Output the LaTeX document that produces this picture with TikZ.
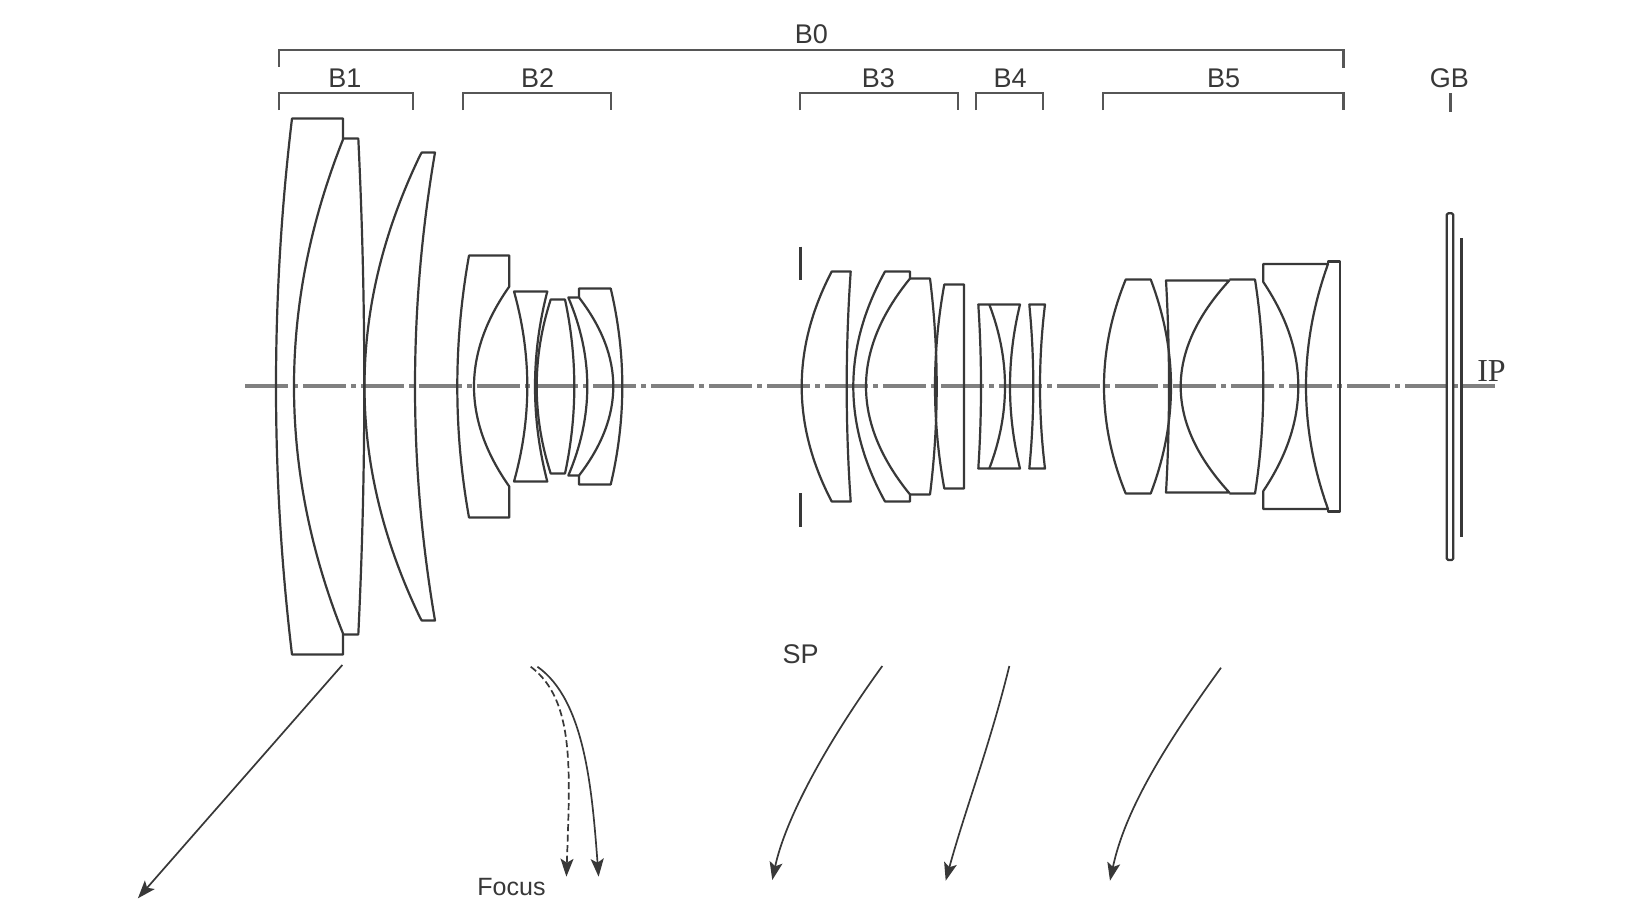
\documentclass[tikz,border=0pt]{standalone}
\usepackage{fontspec}
\setmainfont{Liberation Sans}
\newfontfamily\serifip{Liberation Serif}
\usetikzlibrary{arrows.meta}
\newcommand\ptop[2]{(#1,{386.5-#2})}
\newcommand\pbot[2]{(#1,{386.5+#2})}
\newcommand\lsdn[3]{.. controls ({#1+4/3*(#2-#1)},{386.5-#3/3}) and ({#1+4/3*(#2-#1)},{386.5+#3/3}) .. (#1,{386.5+#3})}
\newcommand\lsup[3]{.. controls ({#1+4/3*(#2-#1)},{386.5+#3/3}) and ({#1+4/3*(#2-#1)},{386.5-#3/3}) .. (#1,{386.5-#3})}
\definecolor{ink}{HTML}{383838}
\tikzset{
  lens/.style={draw=ink,line width=2.2pt,line join=round},
  brk/.style={draw=ink!85,line width=2.2pt,line join=miter},
  axisline/.style={draw=black!50,line width=3.2pt,dash pattern=on 43pt off 5pt on 5pt off 5pt},
  mover/.style={draw=ink,line width=1.7pt,-{Stealth[length=18pt,width=13pt,inset=4pt]}},
  lbl/.style={text=ink,inner sep=0pt,font=\fontsize{27}{27}\selectfont},
}
\begin{document}
\begin{tikzpicture}[x=1pt,y=-1pt]
\useasboundingbox[fill=white] (0,0) rectangle (1638,922);
% optical axis
\coordinate (axL) at (245,386); \coordinate (axR) at (1495,386);
\draw[axisline] (axL) -- (axR);
% B1
\draw[lens] \ptop{292}{268} -- \ptop{343}{268} -- \ptop{343}{247} \lsdn{343}{294}{247} -- \pbot{343}{268} -- \pbot{292}{268} \lsup{292}{276}{268} -- cycle;
\draw[lens] \ptop{343}{248} -- \ptop{358.3}{248} \lsdn{358.3}{364.3}{248} -- \pbot{343}{248};
\draw[lens] \ptop{421.7}{234} -- \ptop{435}{234} \lsdn{435}{415}{234} -- \pbot{421.7}{234} -- \pbot{420}{231} \lsup{420}{364.5}{231} -- cycle;
% B2
\draw[lens] \ptop{469}{131} -- \ptop{509.3}{131} -- \ptop{509.3}{100} \lsdn{509.3}{474}{100} -- \pbot{509.3}{131} -- \pbot{469}{131} \lsup{469}{457.3}{131} -- cycle;
\draw[lens] \ptop{514}{95} -- \ptop{547.3}{95} \lsdn{547.3}{535}{95} -- \pbot{514}{95} \lsup{514}{527.3}{95} -- cycle;
\draw[lens] \ptop{550.7}{87} -- \ptop{565}{87} \lsdn{565}{574.3}{87} -- \pbot{550.7}{87} \lsup{550.7}{536.7}{87} -- cycle;
\draw[lens] \ptop{568.3}{89} -- \ptop{579}{89} \lsdn{579}{613.3}{89} -- \pbot{568.3}{89} \lsup{568.3}{587.3}{89} -- cycle;
\draw[lens] \ptop{579}{89} -- \ptop{579}{98} -- \ptop{610.7}{98} \lsdn{610.7}{622.3}{98} -- \pbot{579}{98} -- \pbot{579}{89};
% stop
\coordinate (stA) at (800.7,246.7); \coordinate (stB) at (800.7,280);
\coordinate (stC) at (800.7,493.3); \coordinate (stD) at (800.7,526.7);
\draw[lens,line width=2.6pt] (stA) -- (stB) (stC) -- (stD);
% B3
\draw[lens] \ptop{831.7}{115} -- \ptop{850.7}{115} \lsdn{850.7}{846.7}{115} -- \pbot{831.7}{115} \lsup{831.7}{801.7}{115} -- cycle;
\draw[lens] \ptop{885}{115} -- \ptop{910}{115} -- \ptop{910}{108} \lsdn{910}{866}{108} -- \pbot{910}{115} -- \pbot{885}{115} \lsup{885}{853.3}{115} -- cycle;
\draw[lens] \ptop{910}{108} -- \ptop{930}{108} \lsdn{930}{936.7}{108} -- \pbot{910}{108};
\draw[lens] \ptop{944.3}{102} -- \ptop{964}{102} -- \pbot{964}{102} -- \pbot{944.3}{102} \lsup{944.3}{935}{102} -- cycle;
% B4
\draw[lens] \ptop{978.3}{82} -- \ptop{1020}{82} \lsdn{1020}{1010}{82} -- \pbot{978.3}{82} \lsup{978.3}{981}{82} -- cycle;
\draw[lens] \ptop{989.3}{82} \lsdn{989.3}{1005}{82};
\draw[lens] \ptop{1029.3}{82} -- \ptop{1045}{82} \lsdn{1045}{1040}{82} -- \pbot{1029.3}{82} \lsup{1029.3}{1033.3}{82} -- cycle;
% B5
\draw[lens] \ptop{1125.7}{107} -- \ptop{1150.7}{107} \lsdn{1150.7}{1171}{107} -- \pbot{1125.7}{107} \lsup{1125.7}{1104}{107} -- cycle;
\draw[lens] \ptop{1166}{106} -- \ptop{1229.3}{106} \lsdn{1229.3}{1180.7}{106} -- \pbot{1166}{106} \lsup{1166}{1169}{106} -- cycle;
\draw[lens] \ptop{1229.3}{107} -- \ptop{1255}{107} \lsdn{1255}{1263.3}{107} -- \pbot{1229.3}{107};
\draw[lens] \ptop{1263.3}{104.5} -- \ptop{1263.3}{122.5} -- \ptop{1328}{122.5} \lsdn{1328}{1306}{122.5} -- \pbot{1263.3}{122.5} -- \pbot{1263.3}{104.5} \lsup{1263.3}{1298.3}{104.5} -- cycle;
\draw[lens] \ptop{1328}{122.5} -- \ptop{1328}{125} -- \ptop{1340}{125} -- \pbot{1340}{125} -- \pbot{1328}{125} -- \pbot{1328}{122.5};
% GB and IP
\draw[lens,rounded corners=1.5pt] (1446.7,213.3) rectangle (1453.3,560);
\coordinate (ipA) at (1461.7,238.3); \coordinate (ipB) at (1461.7,536.7);
\draw[lens,line width=3pt] (ipA) -- (ipB);
% brackets
\draw[brk] (278.8,66.7) -- (278.8,50) -- (1343.4,50) -- (1343.4,68);
\draw[brk] (278.8,110) -- (278.8,93.3) -- (413,93.3) -- (413,110);
\draw[brk] (463,110) -- (463,93.3) -- (611.3,93.3) -- (611.3,110);
\draw[brk] (800,110) -- (800,93.3) -- (957.7,93.3) -- (957.7,110);
\draw[brk] (976,110) -- (976,93.3) -- (1043,93.3) -- (1043,110);
\draw[brk] (1103,110) -- (1103,93.3) -- (1343.4,93.3) -- (1343.4,110);
\coordinate (gbA) at (1450.2,93); \coordinate (gbB) at (1450.2,111.7);
\draw[brk,line width=3.4pt] (gbA) -- (gbB);
% labels
\node[lbl] (tB0) at (811.3,34) {B0};
\node[lbl] (tB1) at (344.8,78.3) {B1};
\node[lbl] (tB2) at (537.7,78.3) {B2};
\node[lbl] (tB3) at (878.3,78.3) {B3};
\node[lbl] (tB4) at (1010,78.3) {B4};
\node[lbl] (tB5) at (1223.6,78.3) {B5};
\node[lbl] (tGB) at (1449.4,78.3) {GB};
\node[lbl] (tSP) at (800.5,654.5) {SP};
\node[lbl,font=\fontsize{25}{25}\selectfont] (tFocus) at (511.5,886.7) {Focus};
\node[lbl,font=\serifip\fontsize{32}{32}\selectfont] (tIP) at (1491.5,370.8) {IP};
% movement arrows
\coordinate (a1s) at (342.3,665); \coordinate (a1e) at (137.9,898.3);
\draw[mover] (a1s) -- (a1e);
\coordinate (fds) at (530.7,666.7); \coordinate (fde) at (566.4,876.7);
\draw[mover,dash pattern=on 7pt off 3.5pt] (fds) .. controls (575,700) and (570,770) .. (fde);
\coordinate (fss) at (537.4,666.7); \coordinate (fse) at (598.6,876.7);
\draw[mover] (fss) .. controls (585,700) and (592,790) .. (fse);
\coordinate (a3s) at (882.3,666); \coordinate (a3e) at (772.3,880);
\draw[mover] (a3s) .. controls (825,745) and (785,820) .. (a3e);
\coordinate (a4s) at (1009.3,666); \coordinate (a4e) at (945.7,880.7);
\draw[mover] (a4s) .. controls (990,745) and (965,810) .. (a4e);
\coordinate (a5s) at (1221,667.7); \coordinate (a5e) at (1110,880.7);
\draw[mover] (a5s) .. controls (1165,745) and (1125,810) .. (a5e);
\end{tikzpicture}
\end{document}
